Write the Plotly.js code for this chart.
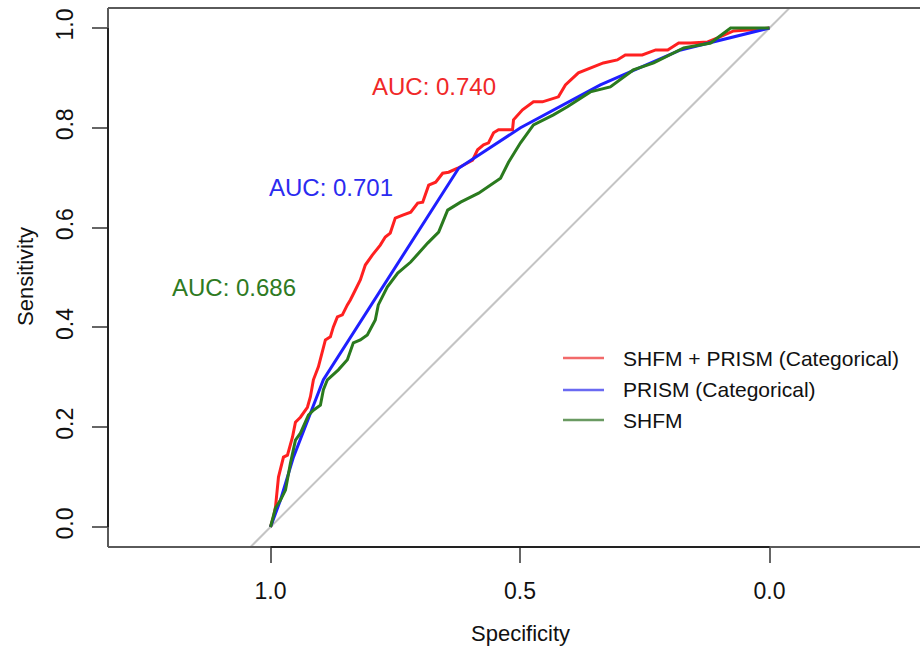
<!DOCTYPE html>
<html>
<head>
<meta charset="utf-8">
<script src="https://cdn.plot.ly/plotly-3.0.1.min.js"></script>
<style>html,body{margin:0;padding:0;background:#fff;}#chart{width:920px;height:648px;}</style>
</head>
<body>
<div id="chart"></div>
<script>
// ---- data ----
var seriesNames = ["SHFM + PRISM (Categorical)", "PRISM (Categorical)", "SHFM"];
var aucLabels = ["AUC: 0.740", "AUC: 0.701", "AUC: 0.686"];
var aucLabelX = [0.673, 0.878, 1.074];
var aucLabelY = [0.882, 0.681, 0.479];

var redSpec = [1.000,0.994,0.990,0.984,0.974,0.966,0.956,0.950,0.940,0.926,0.920,0.914,0.904,0.896,0.890,0.880,0.874,0.866,0.856,0.846,0.840,0.830,0.820,0.810,0.796,0.780,0.770,0.760,0.750,0.735,0.719,0.705,0.695,0.683,0.669,0.655,0.643,0.625,0.605,0.595,0.585,0.573,0.563,0.553,0.543,0.515,0.513,0.495,0.473,0.455,0.423,0.409,0.383,0.359,0.333,0.305,0.289,0.255,0.228,0.204,0.182,0.158,0.124,0.104,0.072,0.044,0.000];
var redSens = [0.000,0.020,0.040,0.100,0.140,0.144,0.180,0.210,0.220,0.240,0.261,0.295,0.321,0.349,0.375,0.381,0.401,0.421,0.425,0.445,0.455,0.475,0.495,0.525,0.545,0.565,0.581,0.589,0.619,0.625,0.631,0.649,0.651,0.685,0.691,0.709,0.711,0.719,0.729,0.735,0.756,0.766,0.770,0.790,0.796,0.796,0.816,0.836,0.852,0.852,0.862,0.886,0.910,0.920,0.930,0.936,0.946,0.946,0.956,0.956,0.970,0.970,0.972,0.980,0.994,0.996,1.000];

var blueSpec = [1.000,0.980,0.954,0.894,0.623,0.499,0.339,0.178,0.000];
var blueSens = [0.000,0.054,0.140,0.295,0.719,0.800,0.886,0.956,1.000];

var greenSpec = [1.000,0.990,0.980,0.970,0.960,0.950,0.940,0.924,0.914,0.900,0.894,0.886,0.864,0.846,0.834,0.820,0.806,0.790,0.784,0.766,0.745,0.719,0.685,0.663,0.645,0.619,0.583,0.559,0.539,0.523,0.499,0.473,0.433,0.405,0.359,0.319,0.273,0.232,0.172,0.118,0.078,0.000];
var greenSens = [0.000,0.038,0.054,0.074,0.128,0.174,0.188,0.224,0.234,0.244,0.275,0.295,0.315,0.335,0.369,0.375,0.385,0.415,0.445,0.481,0.509,0.531,0.569,0.591,0.635,0.651,0.669,0.685,0.699,0.731,0.770,0.806,0.826,0.842,0.872,0.882,0.916,0.930,0.960,0.970,1.000,1.000];

var diagSpec = [1.2, -0.2];
var diagSens = [-0.2, 1.2];

var xTickVals = [1.0, 0.5, 0.0];
var xTickText = ["1.0", "0.5", "0.0"];
var yTickVals = [0.0, 0.2, 0.4, 0.6, 0.8, 1.0];
var yTickText = ["0.0", "0.2", "0.4", "0.6", "0.8", "1.0"];

// ---- style ----
var colors = ["#ff2020", "#1f1fff", "#2a7a1e"];
var labelColors = ["#f02828", "#2b2bf0", "#2e7a22"];
var legendColors = ["#f26a6a", "#6a6af2", "#6a9a62"];
var FONT = "Liberation Sans, Arial, Helvetica, sans-serif";

var traces = [
  {x: diagSpec, y: diagSens, mode: "lines", line: {color: "#c4c4c4", width: 2}, hoverinfo: "skip", showlegend: false},
  {x: redSpec, y: redSens, mode: "lines", name: seriesNames[0], line: {color: colors[0], width: 3}, showlegend: false},
  {x: blueSpec, y: blueSens, mode: "lines", name: seriesNames[1], line: {color: colors[1], width: 3}, showlegend: false},
  {x: greenSpec, y: greenSens, mode: "lines", name: seriesNames[2], line: {color: colors[2], width: 3}, showlegend: false}
];

// plot area pixel geometry
var L = 108, T = 8, W = 920, H = 648, B = 101;
var pw = W - L, ph = H - T - B;
function px2paperX(p) { return (p - L) / pw; }
function py2paperY(p) { return (H - B - p) / ph; }

var shapes = [
  // frame (left, top, bottom)
  {type: "line", xref: "paper", yref: "paper", x0: 0, x1: 0, y0: 0, y1: 1, line: {color: "#5a5a5a", width: 2}},
  {type: "line", xref: "paper", yref: "paper", x0: 0, x1: 1, y0: 1, y1: 1, line: {color: "#5a5a5a", width: 2}},
  {type: "line", xref: "paper", yref: "paper", x0: 0, x1: 1, y0: 0, y1: 0, line: {color: "#5a5a5a", width: 2}},
  // axis lines spanning the ticks
  {type: "line", xref: "x", yref: "paper", x0: Math.max.apply(null, xTickVals), x1: Math.min.apply(null, xTickVals), y0: 0, y1: 0, line: {color: "#222", width: 2}},
  {type: "line", xref: "paper", yref: "y", x0: 0, x1: 0, y0: Math.min.apply(null, yTickVals), y1: Math.max.apply(null, yTickVals), line: {color: "#222", width: 2}}
];

var annotations = [];
for (var i = 0; i < 3; i++) {
  annotations.push({x: aucLabelX[i], y: aucLabelY[i], xref: "x", yref: "y", text: aucLabels[i], showarrow: false,
    font: {family: FONT, size: 24, color: labelColors[i]}, xanchor: "center", yanchor: "middle"});
}
// legend (manual)
var legRowY = [358, 390, 420];
for (var j = 0; j < 3; j++) {
  shapes.push({type: "line", xref: "paper", yref: "paper", x0: px2paperX(563), x1: px2paperX(604),
    y0: py2paperY(legRowY[j]), y1: py2paperY(legRowY[j]), line: {color: legendColors[j], width: 2.5}});
  annotations.push({xref: "paper", yref: "paper", x: px2paperX(621), y: py2paperY(legRowY[j]), text: seriesNames[j],
    showarrow: false, xanchor: "left", yanchor: "middle", font: {family: FONT, size: 21, color: "#111"}});
}
// axis titles
annotations.push({xref: "x", yref: "paper", x: 0.5, y: py2paperY(633), text: "Specificity", showarrow: false,
  xanchor: "center", yanchor: "middle", font: {family: FONT, size: 22, color: "#111"}});
annotations.push({xref: "paper", yref: "paper", x: px2paperX(25), y: py2paperY(277), text: "Sensitivity", showarrow: false,
  textangle: -90, xanchor: "center", yanchor: "middle", font: {family: FONT, size: 22, color: "#111"}});

var layout = {
  width: W, height: H,
  margin: {l: L, r: 0, t: T, b: B, pad: 0},
  paper_bgcolor: "#fff", plot_bgcolor: "#fff",
  showlegend: false,
  xaxis: {
    range: [1 + 162.5 / 499, 1 - 649.5 / 499],
    tickmode: "array", tickvals: xTickVals, ticktext: xTickText,
    ticks: "outside", ticklen: 15, tickwidth: 2, tickcolor: "#666",
    showgrid: false, zeroline: false, showline: false,
    tickfont: {family: FONT, size: 23, color: "#111"},
    ticklabelstandoff: 8, fixedrange: true
  },
  yaxis: {
    range: [-20 / 499, 1 + 20 / 499],
    tickmode: "array", tickvals: yTickVals, ticktext: yTickText,
    ticks: "outside", ticklen: 15, tickwidth: 2, tickcolor: "#666",
    showgrid: false, zeroline: false, showline: false,
    tickangle: -90,
    tickfont: {family: FONT, size: 23, color: "#111"},
    ticklabelstandoff: 10, fixedrange: true
  },
  shapes: shapes,
  annotations: annotations
};

Plotly.newPlot("chart", traces, layout, {displayModeBar: false, staticPlot: true});
</script>
</body>
</html>
